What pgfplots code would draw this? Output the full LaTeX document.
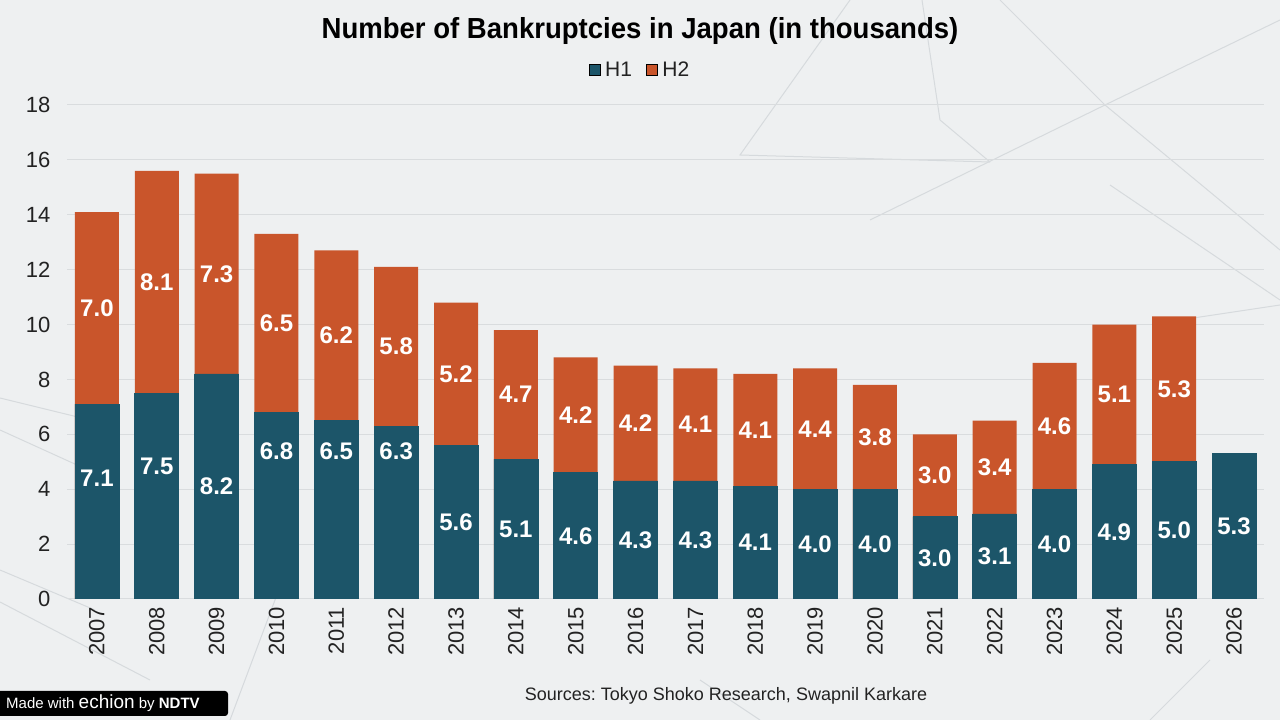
\documentclass[border=0pt]{standalone}
\usepackage{pgfplots}
\pgfplotsset{compat=1.18}
\usepackage{pgfplotstable}
\usepackage{fontspec}
\setmainfont{Liberation Sans}

\definecolor{hone}{HTML}{1C5569}
\definecolor{htwo}{HTML}{C9552B}
\definecolor{bg}{HTML}{EEF0F1}
\definecolor{gridc}{HTML}{D9DCDE}
\definecolor{deco}{HTML}{D6DADD}
\definecolor{ink}{HTML}{222222}

% half-year bankruptcy counts (thousands); p1 = height of the H1 value label
\pgfplotstableread{
x year h1  h2  p1
0  2007 7.1 7.0 4.4
1  2008 7.5 8.1 4.85
2  2009 8.2 7.3 4.1
3  2010 6.8 6.5 5.4
4  2011 6.5 6.2 5.4
5  2012 6.3 5.8 5.4
6  2013 5.6 5.2 2.8
7  2014 5.1 4.7 2.55
8  2015 4.6 4.2 2.3
9  2016 4.3 4.2 2.15
10 2017 4.3 4.1 2.15
11 2018 4.1 4.1 2.05
12 2019 4.0 4.4 2.0
13 2020 4.0 3.8 2.0
14 2021 3.0 3.0 1.5
15 2022 3.1 3.4 1.55
16 2023 4.0 4.6 2.0
17 2024 4.9 5.1 2.45
18 2025 5.0 5.3 2.5
19 2026 5.3 nan 2.65
}\bankdata

\begin{document}
\frenchspacing
\begin{tikzpicture}[x=1pt,y=1pt]
  % page background
  \fill[bg] (0,0) rectangle (1280,720);
  \useasboundingbox (0,0) rectangle (1280,720);
  % faint decorative network lines
  \begin{scope}[draw=deco, line width=1pt]
    \draw (850,720) -- (740,565) -- (990,558);
    \draw (922,720) -- (940,600) -- (990,558);
    \draw (1000,720) -- (1105,615) -- (1280,700);
    \draw (1105,615) -- (870,500);
    \draw (1105,615) -- (1280,470);
    \draw (1110,535) -- (1280,420);
    \draw (1180,400) -- (1280,415);
    \draw (0,322) -- (90,300);
    \draw (0,290) -- (110,240);
    \draw (0,150) -- (95,110);
    \draw (0,118) -- (150,40);
    \draw (230,0) -- (290,160);
    \draw (700,40) -- (760,0);
    \draw (1150,0) -- (1210,60);
  \end{scope}

  \begin{axis}[
    at={(67pt,121pt)}, anchor=south west,
    scale only axis, width=1197pt, height=494pt,
    xmin=-0.5, xmax=19.5, ymin=0, ymax=18,
    ytick={0,2,...,18},
    xtick={0,...,19},
    xticklabels from table={\bankdata}{year},
    /pgf/number format/assume math mode=true,
    ybar, bar width=44pt, bar shift=0pt,
    axis line style={draw=none},
    tick style={draw=none},
    ymajorgrids,
    grid style={gridc, line width=1pt},
    tick label style={font=\fontsize{22}{26}\selectfont, text=ink},
    yticklabel style={anchor=east, xshift=-13pt},
    xticklabel style={rotate=90, anchor=east},
    legend columns=2,
    legend style={at={(0.4787,1.071)}, anchor=center, draw=none, fill=none,
      font=\fontsize{21}{24}\selectfont, text=ink,
      /tikz/every even column/.append style={column sep=12pt}},
    legend image code/.code={\fill[#1] (0pt,-5.5pt) rectangle (11pt,5.5pt);},
    every node near coord/.append style={anchor=center, text=white,
      font=\bfseries\fontsize{24}{28}\selectfont},
  ]
    % full-year totals in H2 colour, with the H1 part drawn over them
    \addplot[fill=htwo, draw=none, forget plot]
      table[x=x, y expr=\thisrow{h1}+\thisrow{h2}] {\bankdata};
    \addplot[fill=hone, draw=hone, line width=0.6pt, forget plot]
      table[x=x, y=h1] {\bankdata};

    % value labels
    \addplot[draw=none, fill=none, forget plot, nodes near coords,
      point meta=explicit symbolic]
      table[x=x, y=p1, meta=h1] {\bankdata};
    \addplot[draw=none, fill=none, forget plot, nodes near coords,
      point meta=explicit symbolic]
      table[x=x, y expr=\thisrow{h1}+\thisrow{h2}/2, meta=h2] {\bankdata};

    \addlegendimage{fill=hone}
    \addlegendentry{\hspace{3pt}H1}
    \addlegendimage{fill=htwo}
    \addlegendentry{\hspace{3pt}H2}
  \end{axis}

  % title
  \node[text=black] at (640,689)
    {\scalebox{0.95}[1]{\bfseries\fontsize{29}{33}\selectfont Number of Bankruptcies in Japan (in thousands)}};
  % source line
  \node[text=ink] at (726,24) {\fontsize{18}{22}\selectfont Sources: Tokyo Shoko Research, Swapnil Karkare};
  % badge
  \fill[black, rounded corners=3pt] (-6,4) rectangle (228,29);
  \node[text=white, anchor=west, inner sep=0pt] at (6,16.5)
    {\fontsize{15}{18}\selectfont Made with {\fontsize{19}{18}\selectfont echion} by \textbf{NDTV}};
\end{tikzpicture}
\end{document}
